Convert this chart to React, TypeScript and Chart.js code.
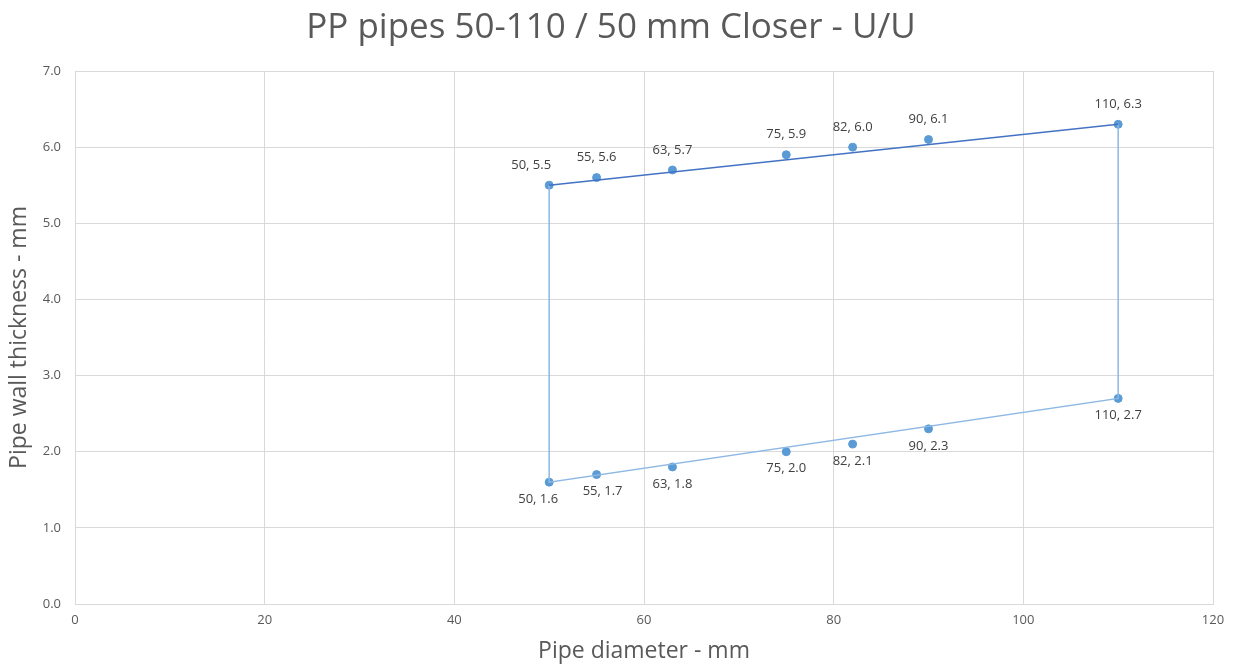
import React, { useEffect, useRef } from "react";
import { Chart, registerables } from "chart.js";
Chart.register(...registerables);

const diameters = [50, 55, 63, 75, 82, 90, 110];
const upperThickness = [5.5, 5.6, 5.7, 5.9, 6.0, 6.1, 6.3];
const lowerThickness = [1.6, 1.7, 1.8, 2.0, 2.1, 2.3, 2.7];
const titleText = "PP pipes 50-110 / 50 mm Closer - U/U";
const xTitle = "Pipe diameter - mm";
const yTitle = "Pipe wall thickness - mm";

const FONT = "'Open Sans', 'Liberation Sans', sans-serif";

export default function App() {
  const ref = useRef<HTMLCanvasElement>(null);
  useEffect(() => {
    const n = diameters.length;
    const upperPts = diameters.map((x, i) => ({ x, y: upperThickness[i] }));
    const lowerPts = diameters.map((x, i) => ({ x, y: lowerThickness[i] }));
    const topLine = [upperPts[0], upperPts[n - 1]];
    const frame = [upperPts[0], lowerPts[0], lowerPts[n - 1], upperPts[n - 1]];

    const labelPlugin = {
      id: "pointLabels",
      afterDatasetsDraw(chart: any) {
        const ctx = chart.ctx;
        ctx.save();
        ctx.font = `13px ${FONT}`;
        ctx.fillStyle = "#404040";
        ctx.textAlign = "center";
        ctx.textBaseline = "middle";
        [2, 3].forEach((di) => {
          const meta = chart.getDatasetMeta(di);
          const ds = chart.data.datasets[di];
          meta.data.forEach((el: any, i: number) => {
            const p = ds.data[i];
            const txt = `${p.x}, ${p.y.toFixed(1)}`;
            if (di === 2) {
              ctx.fillText(txt, el.x - (i === 0 ? 18 : 0), el.y - 20);
            } else {
              const dx = i === 0 ? -11 : i === 1 ? 6 : 0;
              ctx.fillText(txt, el.x + dx, el.y + 17);
            }
          });
        });
        ctx.font = `35px ${FONT}`;
        ctx.fillStyle = "#595959";
        ctx.fillText(titleText, 611, 28);
        ctx.restore();
      },
    };

    const chart = new Chart(ref.current!, {
      type: "scatter",
      data: {
        datasets: [
          {
            data: topLine,
            showLine: true,
            borderColor: "#4472C4",
            borderWidth: 1.5,
            pointRadius: 0,
          },
          {
            data: frame,
            showLine: true,
            borderColor: "#8DB8E4",
            borderWidth: 1.5,
            pointRadius: 0,
          },
          {
            data: upperPts,
            backgroundColor: "#5B9BD5",
            borderColor: "#5B9BD5",
            pointRadius: 4,
            showLine: false,
          },
          {
            data: lowerPts,
            backgroundColor: "#5B9BD5",
            borderColor: "#5B9BD5",
            pointRadius: 4,
            showLine: false,
          },
        ],
      },
      options: {
        animation: false,
        responsive: false,
        layout: { padding: { top: 71, right: 23, left: 0, bottom: 0 } },
        plugins: { legend: { display: false }, tooltip: { enabled: false } },
        scales: {
          x: {
            type: "linear",
            min: 0,
            max: 120,
            ticks: { stepSize: 20, color: "#595959", font: { size: 13, family: FONT }, padding: 8 },
            grid: { color: "#D9D9D9", drawTicks: false },
            border: { color: "#D9D9D9" },
            title: { display: true, text: xTitle, color: "#595959", font: { size: 23, family: FONT }, padding: { top: 12 } },
            afterFit: (s: any) => { s.height = 65; },
          },
          y: {
            type: "linear",
            min: 0,
            max: 7,
            ticks: {
              stepSize: 1,
              color: "#595959",
              font: { size: 13, family: FONT },
              padding: 14,
              callback: (v: any) => Number(v).toFixed(1),
            },
            grid: { color: "#D9D9D9", drawTicks: false },
            border: { color: "#D9D9D9" },
            title: { display: true, text: yTitle, color: "#595959", font: { size: 23, family: FONT }, padding: { top: 6, bottom: 4 } },
            afterFit: (s: any) => { s.width = 75; },
          },
        },
      },
      plugins: [labelPlugin],
    });
    return () => chart.destroy();
  }, []);
  return (
    <div style={{ position: "fixed", left: 0, top: 0, width: 1236, height: 669, background: "#fff" }}>
      <canvas ref={ref} width={1236} height={669} style={{ width: 1236, height: 669 }} />
    </div>
  );
}
